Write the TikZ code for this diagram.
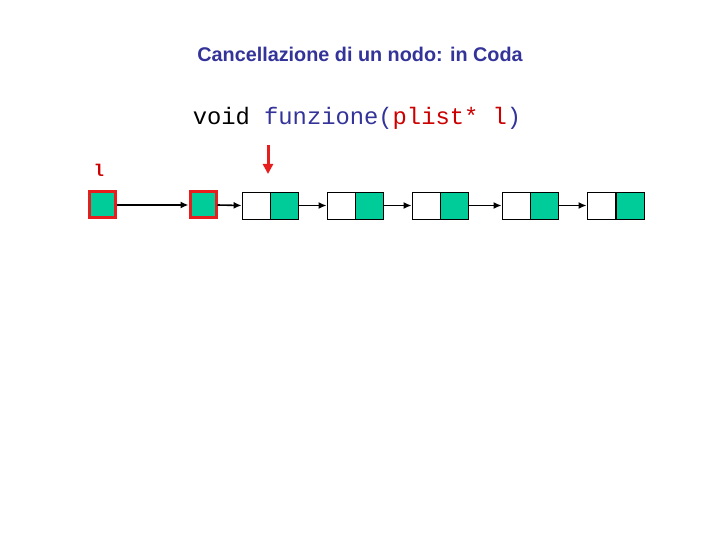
\documentclass[tikz,border=0pt]{standalone}
\usepackage{fontspec}
\setmainfont{Liberation Sans}
\newfontfamily\codefont{Liberation Mono}
\usetikzlibrary{arrows.meta}
\definecolor{tblue}{RGB}{51,51,153}
\definecolor{cred}{RGB}{204,0,0}
\definecolor{lgreen}{RGB}{0,204,153}
\definecolor{bred}{RGB}{230,30,30}
\tikzset{
  ptr/.style={draw=bred,line width=3pt,fill=lgreen,minimum width=26pt,minimum height=26pt,inner sep=0pt},
  cellw/.style={draw=black,line width=0.8pt,fill=white,minimum width=28pt,minimum height=27pt,inner sep=0pt},
  cellg/.style={draw=black,line width=0.8pt,fill=lgreen,minimum width=28pt,minimum height=27pt,inner sep=0pt},
  link/.style={line width=1.6pt,-{Latex[length=8pt,width=7pt]}},
}
\begin{document}
\begin{tikzpicture}[x=1pt,y=-1pt]
\useasboundingbox (0,0) rectangle (720,540);
\node[text=tblue,font=\bfseries\fontsize{19.8}{22}\selectfont] (title) at (360,54) {Cancellazione di un nodo: in Coda};
\node[font=\codefont\fontsize{23.8}{26}\selectfont,inner sep=0pt] (code) at (357,118) {void \textcolor{tblue}{funzione(}\textcolor{cred}{plist* l}\textcolor{tblue}{)}};
\node[text=cred,font=\codefont\bfseries\fontsize{17}{18}\selectfont] (lab) at (99,170) {l};
\node[ptr] (l) at (102,205) {};
\node[ptr] (p) at (203,205) {};
\foreach \i/\xa/\xb in {1/256/284, 2/341/369, 3/426/454, 4/516/544, 5/601/630}{
  \node[cellw] (w\i) at (\xa,205.5) {};
  \node[cellg] (g\i) at (\xb,205.5) {};
}
\draw[link] (l.east) -- (p.west);
\draw[link] (p.east) -- (w1.west);
\foreach \i/\j in {1/2,2/3,3/4,4/5}{
  \draw[link] (g\i.east) -- (w\j.west);
}
\coordinate (ra) at (268,145);
\coordinate (rb) at (268,174);
\draw[draw=bred,line width=3pt,-{Triangle[length=10pt,width=10pt]}] (ra) -- (rb);
\end{tikzpicture}
\end{document}
